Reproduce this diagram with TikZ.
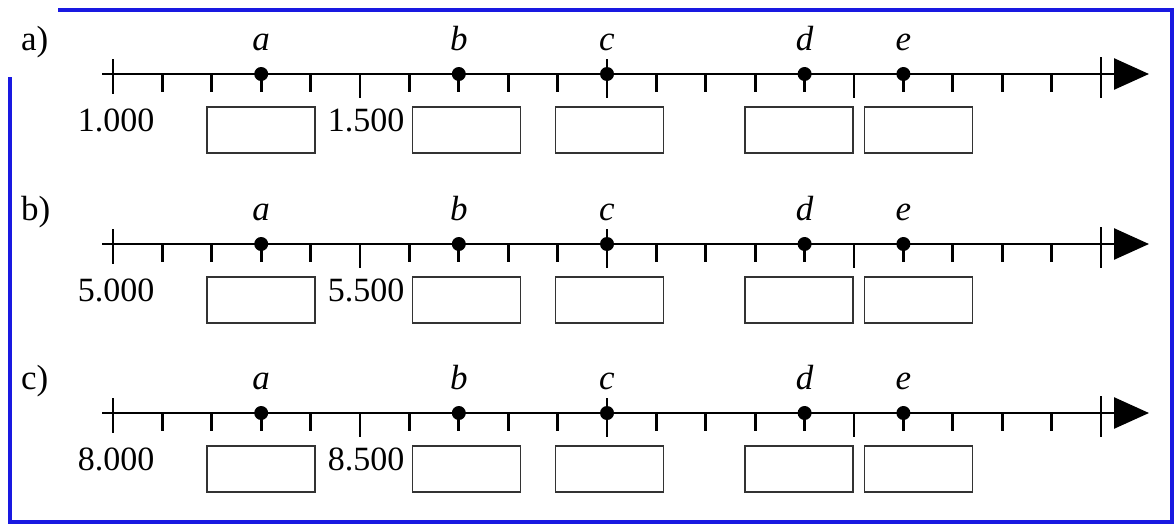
\documentclass[tikz,border=0pt]{standalone}
\usepackage{fontspec}
\setmainfont{Liberation Serif}
\usetikzlibrary{arrows.meta}
\definecolor{frameblue}{RGB}{25,25,225}
\begin{document}
\begin{tikzpicture}[x=1pt,y=-1pt,
  axisline/.style={line width=2.6pt,-{Triangle[length=35pt,width=31pt]}},
  tk/.style={line width=2.8pt},
  dotp/.style={circle,fill=black,inner sep=0pt,minimum size=14pt},
  ansbox/.style={draw=black!80,line width=1.2pt,minimum width=108pt,minimum height=46pt,inner sep=0pt},
  ptlabel/.style={font=\fontsize{35}{40}\selectfont\itshape,anchor=base,inner sep=0pt},
  numlabel/.style={font=\fontsize{34}{40}\selectfont,anchor=base,inner sep=0pt},
  rowlabel/.style={font=\fontsize{35}{40}\selectfont,anchor=base west,inner sep=0pt},
  frame/.style={draw=frameblue,line width=3.5pt}
]
\useasboundingbox (0,0) rectangle (1176,525);
\draw[frame] (58,10) -- (1172,10) -- (1172,522) -- (10,522) -- (10,77);
\foreach \r/\y/\lab/\n/\m in {a/74/a)/1.000/1.500, b/244/b)/5.000/5.500, c/413/c)/8.000/8.500} {
  \begin{scope}[shift={(0,\y)}]
    \coordinate (\r-s) at (102,0);
    \coordinate (\r-tip) at (1149,0);
    \draw[axisline] (\r-s) -- (\r-tip);
    % ticks
    \foreach \i in {1,2,3,4,6,7,8,9,11,12,13,14,16,17,18,19} {
      \draw[tk] (113+49.4*\i,0) -- (113+49.4*\i,18);
    }
    \foreach \i in {5,15} {
      \draw[tk] (113+49.4*\i,0) -- (113+49.4*\i,24);
    }
    \draw[tk] (113,-15) -- (113,20);
    \draw[tk] (113+49.4*10,-15) -- (113+49.4*10,24);
    \draw[tk] (113+49.4*20,-17) -- (113+49.4*20,24);
    % points
    \foreach \p/\i in {a/3,b/7,c/10,d/14,e/16} {
      \node[dotp] (\r-\p) at (113+49.4*\i,0) {};
      \node[ptlabel] (\r-\p-lab) at (113+49.4*\i,-24) {\p};
    }
    % labels
    \node[rowlabel] (\r-row) at (21,-24) {\lab};
    \node[numlabel] (\r-n0) at (116,57) {\n};
    \node[numlabel] (\r-n5) at (366,57) {\m};
    % boxes
    \foreach \p/\cx in {a/261,b/466.5,c/609.5,d/799,e/918.5} {
      \node[ansbox] (\r-\p-box) at (\cx,56) {};
    }
  \end{scope}
}
\end{tikzpicture}
\end{document}
